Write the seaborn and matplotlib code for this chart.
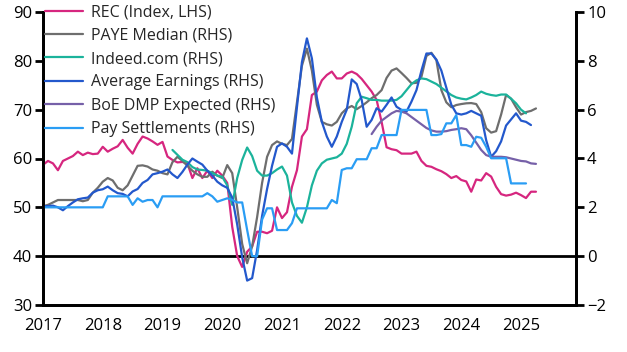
import numpy as np
import pandas as pd
import matplotlib
matplotlib.use("Agg")
import matplotlib.pyplot as plt
import seaborn as sns

# ---- data (monthly, starting Jan 2017) ----
start_year = 2017
rec = [58.7, 59.5, 59, 57.6, 59.5, 60, 60.5, 61.4, 60.7, 61.2, 60.9, 61,
       62.4, 61.4, 62, 62.5, 63.8, 62.2, 61, 63, 64.5, 64.1, 63.5, 62.8,
       63.4, 60.4, 59.7, 59.2, 59.3, 59, 56, 58, 56, 57.5, 56, 57.5,
       56.5, 55, 46, 40, 37.8, 40.9, 42, 45, 45, 44.7, 45.2, 50,
       47.8, 49, 54.2, 57.6, 64.5, 66, 73, 73.7, 76, 77.1, 77.8, 76.4,
       76.4, 77.4, 77.8, 77.3, 76.3, 75, 73.7, 72, 67.5, 62.3, 61.9, 61.7,
       61, 61, 61, 61.4, 59.5, 58.5, 58.3, 57.8, 57.4, 56.8, 56, 56.4,
       55.6, 55.3, 53.2, 55.7, 55.5, 57, 56.3, 54.2, 52.7, 52.4, 52.6, 53,
       52.5, 51.9, 53.2, 53.2]

paye = [2.05, 2.1, 2.2, 2.3, 2.3, 2.3, 2.3, 2.3, 2.25, 2.3, 2.6, 2.8,
        3.05, 3.2, 3.1, 2.8, 2.7, 2.9, 3.3, 3.7, 3.72, 3.67, 3.55, 3.5,
        3.4, 3.35, 3.85, 4.07, 3.9, 3.7, 3.5, 3.35, 3.25, 3.25, 3.46, 3.3,
        3.2, 3.73, 3.4, 2.0, 0.5, -0.29, 0.4, 1.6, 3.0, 4.07, 4.55, 4.7,
        4.6, 4.55, 4.8, 6.3, 7.8, 8.5, 7.6, 6.2, 5.5, 5.4, 5.35, 5.5,
        5.85, 6.05, 6.15, 6.02, 6.15, 6.3, 6.47, 6.6, 6.8, 7.3, 7.6, 7.69,
        7.5, 7.3, 7.08, 7.1, 7.35, 8.2, 8.33, 8.03, 6.8, 6.3, 6.1, 6.19,
        6.23, 6.26, 6.27, 6.23, 5.9, 5.24, 5.06, 5.12, 5.8, 6.6, 6.45, 6.1,
        5.8, 5.9, 5.95, 6.05]

indeed_start = 26
indeed = [4.35, 4.15, 3.95, 3.85, 3.65, 3.55, 3.53, 3.5, 3.4, 3.3,
          3.25, 2.9, 2.1, 3.2, 3.94, 4.45, 4.1, 3.5, 3.3, 3.3, 3.4, 3.55,
          3.67, 3.3, 2.2, 1.65, 1.37, 2.0, 2.9, 3.5, 3.8, 3.95, 4.0, 4.05,
          4.2, 4.6, 5.3, 6.26, 6.53, 6.47, 6.4, 6.4, 6.37, 6.37, 6.37, 6.4,
          6.55, 6.8, 7.05, 7.2, 7.28, 7.25, 7.15, 7.05, 6.9, 6.75, 6.6, 6.5,
          6.45, 6.42, 6.5, 6.6, 6.74, 6.65, 6.6, 6.57, 6.62, 6.62, 6.45, 6.26,
          6.0, 5.85]

avg_earn = [2.05, 2.05, 2.07, 2.0, 1.88, 2.05, 2.2, 2.33, 2.37, 2.4, 2.6, 2.7,
            2.74, 2.85, 2.7, 2.58, 2.55, 2.45, 2.65, 2.75, 3.0, 3.12, 3.35, 3.4,
            3.46, 3.55, 3.35, 3.2, 3.45, 3.75, 4.0, 3.87, 3.75, 3.5, 3.3, 3.05,
            2.9, 2.8, 2.4, 1.3, -0.05, -1.0, -0.9, 0.25, 1.65, 2.75, 3.7, 4.48,
            4.62, 4.48, 4.2, 6.1, 7.95, 8.92, 8.1, 6.5, 5.5, 4.9, 4.48, 4.9,
            5.5, 6.0, 7.24, 7.05, 6.4, 5.3, 5.58, 6.06, 5.92, 6.2, 6.5, 6.12,
            5.99, 5.92, 6.33, 6.8, 7.6, 8.3, 8.3, 8.05, 7.6, 6.9, 6.2, 5.85,
            5.8, 5.85, 5.95, 5.85, 5.75, 4.75, 4.07, 4.3, 4.7, 5.35, 5.6, 5.85,
            5.55, 5.5, 5.37]

boe_start = 66
boe_dmp = [5.0, 5.3, 5.55, 5.7, 5.85, 5.95, 5.92, 5.85, 5.7, 5.55, 5.4, 5.25,
           5.15, 5.1, 5.1, 5.12, 5.17, 5.2, 5.24, 5.2, 4.95, 4.65, 4.35, 4.14,
           4.07, 4.07, 4.07, 4.05, 4.0, 3.95, 3.9, 3.88, 3.8, 3.78]

pay_settle = [2.0] * 13 + [2.45] * 5 + [2.1, 2.37, 2.23, 2.3, 2.3, 2.0] + \
             [2.45] * 9 + [2.58, 2.45, 2.23, 2.3, 2.37, 2.3, 2.2, 2.2, 1.07,
              0.0, 0.0, 1.5, 1.96, 1.96, 1.07, 1.07, 1.07, 1.35] + \
             [1.96] * 7 + [2.3, 2.17, 3.53, 3.6, 3.6, 3.97, 3.97, 3.97,
              4.42, 4.42, 4.96, 4.96, 4.96, 4.96] + [5.99] * 6 + \
             [4.96, 4.96, 5.0, 5.44, 5.44, 5.78, 4.55, 4.55, 4.48, 4.89, 4.85,
              4.48, 4.01, 4.01, 4.01, 4.01, 2.98, 2.98, 2.98, 2.98]

labels = ["REC (Index, LHS)", "PAYE Median (RHS)", "Indeed.com (RHS)",
          "Average Earnings (RHS)", "BoE DMP Expected (RHS)", "Pay Settlements (RHS)"]
colors = ["#D6267F", "#6E6E6E", "#1BB39B", "#2358CC", "#7660A8", "#2A9DF4"]
x_ticks = list(range(2017, 2026))
left_ticks = list(range(30, 91, 10))
right_ticks = list(range(-2, 11, 2))


def to_frame(values, offset, name):
    t = start_year + (np.arange(len(values)) + offset) / 12.0
    return pd.DataFrame({"t": t, "v": values, "series": name})


df_left = to_frame(rec, 0, labels[0])
df_right = pd.concat([
    to_frame(paye, 0, labels[1]),
    to_frame(indeed, indeed_start, labels[2]),
    to_frame(avg_earn, 0, labels[3]),
    to_frame(boe_dmp, boe_start, labels[4]),
    to_frame(pay_settle, 0, labels[5]),
], ignore_index=True)

sns.set_style("white")
plt.rcParams['font.family'] = ['Open Sans', 'DejaVu Sans']
fig = plt.figure(figsize=(6.27, 3.52), dpi=100)
ax = fig.add_axes([43 / 627, 1 - 305 / 352, (576 - 43) / 627, (305 - 12) / 352])
ax2 = ax.twinx()

sns.lineplot(data=df_left, x="t", y="v", color=colors[0], lw=1.6, ax=ax,
             legend=False, zorder=3)
sns.lineplot(data=df_right, x="t", y="v", hue="series", hue_order=labels[1:],
             palette=colors[1:], lw=1.6, ax=ax2, legend=False)

ax.axhline(40, color="black", lw=2, zorder=1)
ax.set_xlim(2017, 2025.92)
ax.set_ylim(30, 90)
ax2.set_ylim(-2, 10)
ax.set_xticks(x_ticks)
ax.set_yticks(left_ticks)
ax2.set_yticks(right_ticks)
ax.set_xlabel("")
ax.set_ylabel("")
ax2.set_ylabel("")

for a in (ax, ax2):
    a.spines["top"].set_visible(False)
    for s in ("left", "right", "bottom"):
        a.spines[s].set_linewidth(2)
        a.spines[s].set_color("black")
    a.tick_params(axis="both", which="major", labelsize=12, width=2,
                  length=6, colors="black", direction="out")
ax.tick_params(axis="x", length=5, pad=4)
ax.tick_params(axis="y", left=True, pad=2)
ax2.tick_params(axis="y", right=True, pad=2)
ax.grid(False)
ax2.grid(False)

handles = [plt.Line2D([], [], color=c, lw=1.6) for c in colors]
leg = ax2.legend(handles, labels, loc="upper left", frameon=False,
                 fontsize=11.5, handlelength=2.4, handletextpad=0.45,
                 labelspacing=0.46, borderaxespad=0, borderpad=0,
                 bbox_to_anchor=(0.004, 1.026))

fig.savefig("out.png", dpi=100)
